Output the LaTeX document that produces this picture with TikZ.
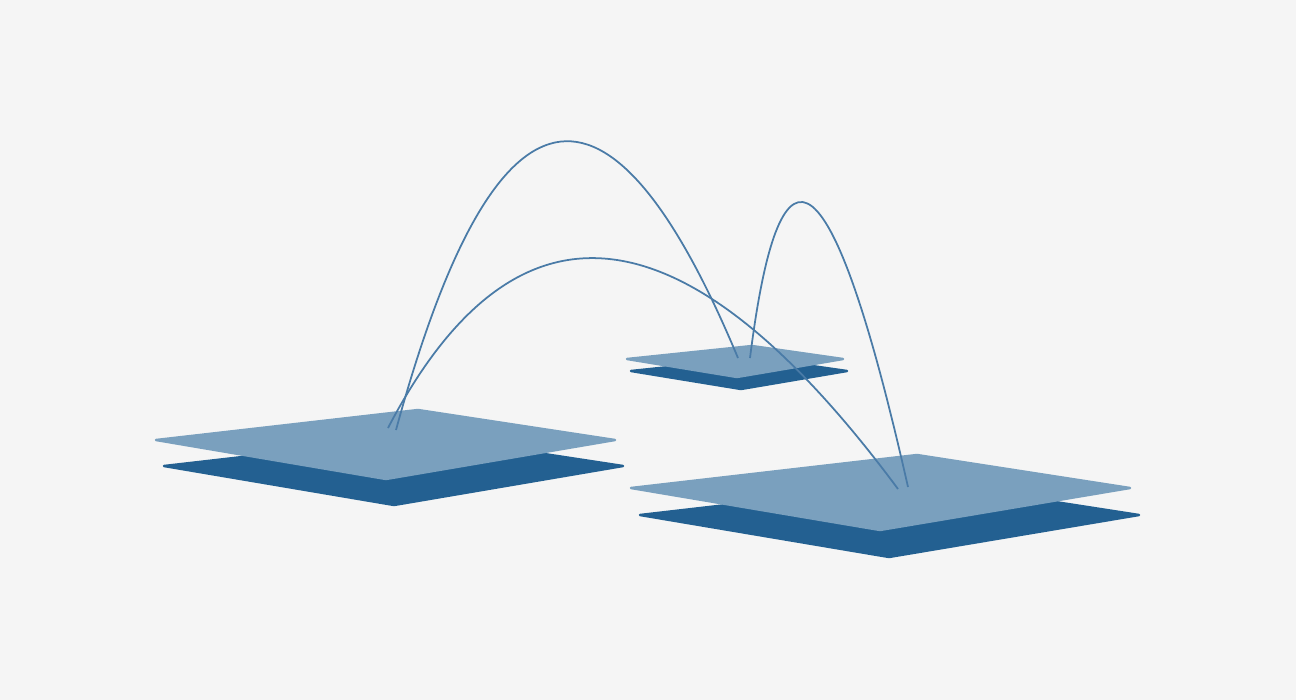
\documentclass[tikz,border=0pt]{standalone}
\usepackage{tikz}
\usetikzlibrary{calc}
\definecolor{fondo}{HTML}{F5F5F5}
\definecolor{placaclara}{HTML}{7AA0BE}
\definecolor{placaoscura}{HTML}{236091}
\definecolor{arco}{HTML}{4A7BA7}

\begin{document}
\begin{tikzpicture}[x=0.02cm, y=-0.02cm,
  oscura/.style={fill=placaoscura, draw=placaoscura, line width=1.4pt, line join=round},
  clara/.style={fill=placaclara, draw=placaclara, line width=1.4pt, line join=round},
  salto/.style={draw=arco, line width=1pt}]
  % Fondo
  \useasboundingbox (0,0) rectangle (1296,700);
  \fill[fondo] (0,0) rectangle (1296,700);
  % Placa izquierda
  \filldraw[oscura, shift={(8,26)}] (156,440) -- (418,410) -- (615,440) -- (386,479) -- cycle;
  \filldraw[clara] (156,440) -- (418,410) -- (615,440) -- (386,479) -- cycle;
  % Placa pequena
  \filldraw[oscura, shift={(4,12)}] (627,359) -- (752,346) -- (843,359) -- (737,377) -- cycle;
  \filldraw[clara] (627,359) -- (752,346) -- (843,359) -- (737,377) -- cycle;
  % Placa derecha
  \filldraw[oscura, shift={(9,27)}] (631,488) -- (917,455) -- (1130,488) -- (880,530) -- cycle;
  \filldraw[clara] (631,488) -- (917,455) -- (1130,488) -- (880,530) -- cycle;
  % Extremos de los saltos
  \coordinate (izqA) at (388,428);
  \coordinate (izqB) at (396,430);
  \coordinate (pqA) at (738,358);
  \coordinate (pqB) at (750,358);
  \coordinate (derA) at (898,489);
  \coordinate (derB) at (908,487);
  % Saltos (cuadraticas)
  \draw[salto] (izqB) .. controls ($(izqB)!2/3!(543,-109)$) and ($(pqA)!2/3!(543,-109)$) .. (pqA);
  \draw[salto] (izqA) .. controls ($(izqA)!2/3!(580,60)$) and ($(derA)!2/3!(580,60)$) .. (derA);
  \draw[salto] (pqB) .. controls ($(pqB)!2/3!(796,-9)$) and ($(derB)!2/3!(796,-9)$) .. (derB);
\end{tikzpicture}
\end{document}
